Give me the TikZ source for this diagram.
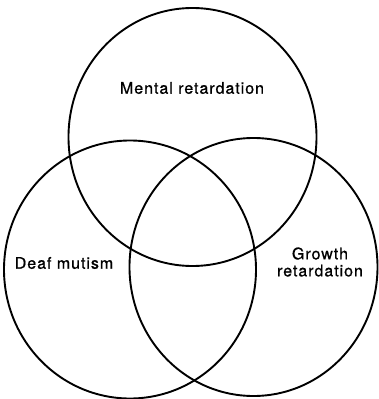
\documentclass[tikz,border=0pt]{standalone}
\usepackage{fontspec}
\setmainfont{TeX Gyre Heros}[LetterSpace=6, FakeBold=0.8]
\usetikzlibrary{positioning, calc}

\tikzset{
    ring/.style={line width=1.9pt},
    setlabel/.style={font=\fontsize{16}{17}\selectfont, align=center, inner sep=0pt}
}

\begin{document}
\begin{tikzpicture}[x=1pt, y=-1pt]

        % ===================================================
        % Canvas
        % ===================================================
        \useasboundingbox (0, 0) rectangle (379, 399);

        % ===================================================
        % Circle centres
        % ===================================================
        \coordinate (MR) at (192.5, 137);
        \coordinate (DM) at (130, 269.5);
        \coordinate (GR) at (253.5, 267);

        % ===================================================
        % The three sets (slightly taller than wide)
        % ===================================================
        \draw[ring] (MR) ellipse [x radius=124pt, y radius=129pt];
        \draw[ring] (DM) ellipse [x radius=126pt, y radius=129pt];
        \draw[ring] (GR) ellipse [x radius=124pt, y radius=129pt];

        % ===================================================
        % Text Labels for the sets
        % ===================================================
        \node[setlabel] (mental) at (192, 88) {Mental retardation};
        \node[setlabel] (deaf) at (64, 263) {Deaf mutism};
        \node[setlabel] (growth) at (320, 262) {Growth\\retardation};

    \end{tikzpicture}
\end{document}
